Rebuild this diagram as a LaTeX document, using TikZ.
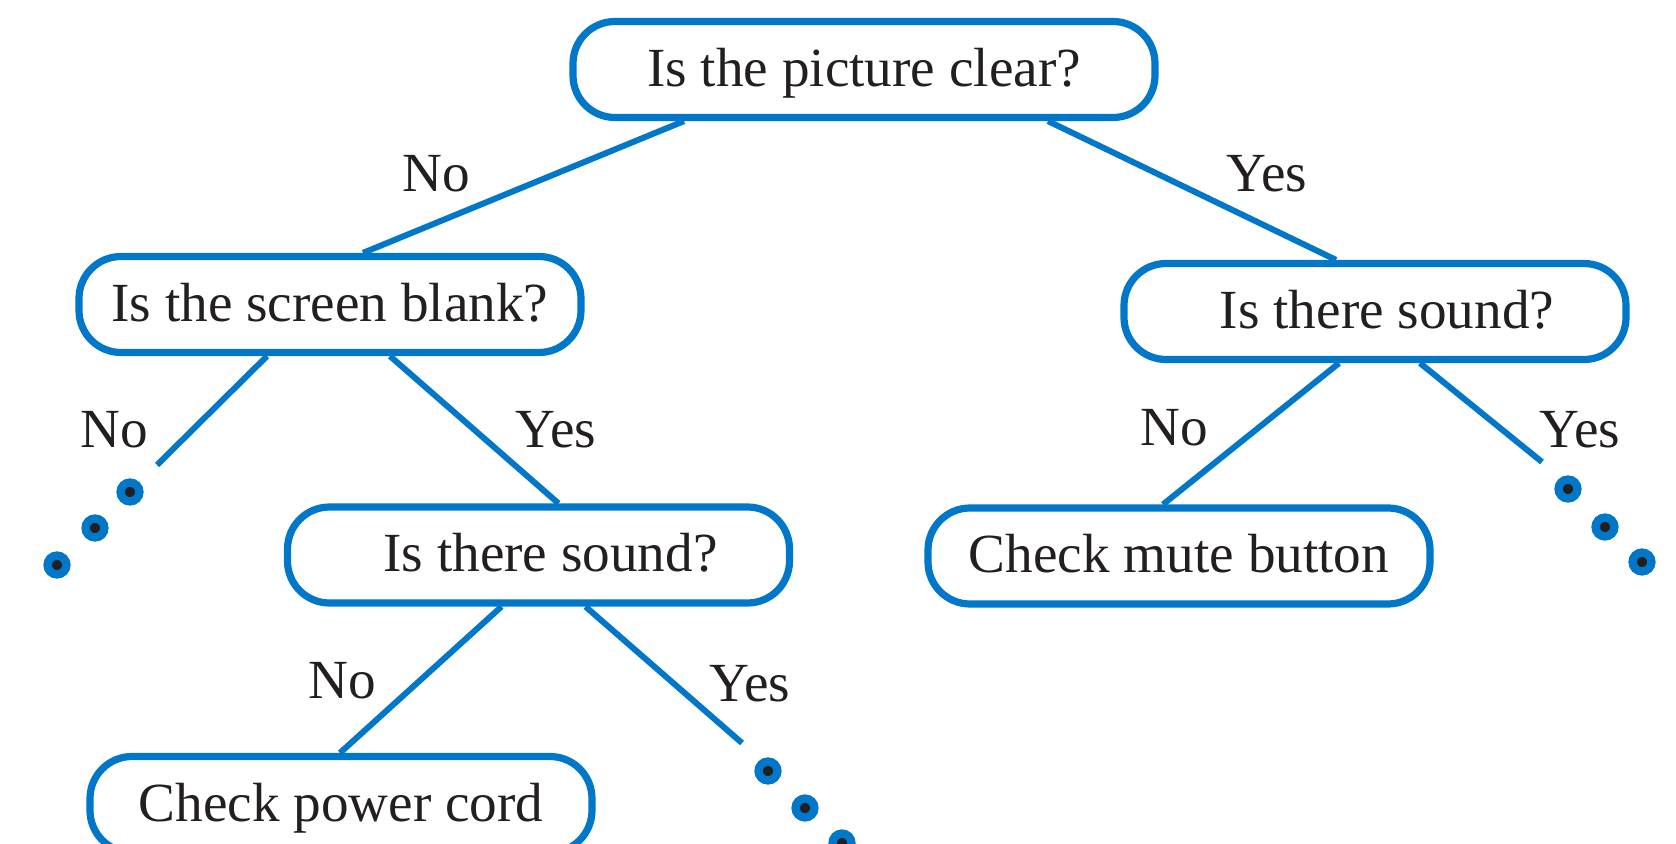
\documentclass[tikz,border=0pt]{standalone}
\usepackage{fontspec}
\setmainfont{Liberation Serif}
\usetikzlibrary{calc}
\definecolor{treeblue}{RGB}{0,119,200}
\definecolor{inkblack}{RGB}{35,31,32}
\tikzstyle{question} = [rectangle, draw=treeblue, line width=3.6pt, rounded corners=21pt, text centered, minimum height=48pt, minimum width=251pt, text height=22.9pt, text depth=6.1pt, font=\fontsize{27.6}{32}\selectfont, text=inkblack]
\tikzstyle{answer} = [font=\fontsize{27.6}{32}\selectfont, text=inkblack]
\tikzstyle{branchline} = [draw=treeblue, line width=3pt]
\tikzstyle{moredot} = [circle, fill=inkblack, draw=treeblue, line width=4.2pt, inner sep=0pt, minimum size=9.4pt]

\begin{document}
\begin{tikzpicture}[x=0.5pt, y=-0.5pt]
            \useasboundingbox (0,0) rectangle (1676,844);
            \node (clear) [question, minimum width=291pt] at (864,69.5) {Is the picture clear?};
            \node (blank) [question] at (330,304.5) {Is the screen blank?};
            \node (soundr) [question] at (1375,311.5) {\hspace{12pt}Is there sound?};
            \node (soundl) [question] at (538.5,555) {\hspace{12pt}Is there sound?};
            \node (mute) [question] at (1179,556) {Check mute button};
            \node (power) [question] at (341,804.5) {Check power cord};
            % free ends of the open branches
            \coordinate (endl) at (157,465);
            \coordinate (endr) at (1542,462);
            \coordinate (endb) at (742,743);
            \draw [branchline] ($(clear.south)+(-180,0)$) -- ($(blank.north)+(33,0)$);
            \draw [branchline] ($(clear.south)+(184,0)$) -- ($(soundr.north)+(-39,0)$);
            \draw [branchline] ($(blank.south)+(-63,0)$) -- (endl);
            \draw [branchline] ($(blank.south)+(60,0)$) -- ($(soundl.north)+(20,0)$);
            \draw [branchline] ($(soundr.south)+(-36,0)$) -- ($(mute.north)+(-16,0)$);
            \draw [branchline] ($(soundr.south)+(45,0)$) -- (endr);
            \draw [branchline] ($(soundl.south)+(-37,0)$) -- ($(power.north)+(-1,0)$);
            \draw [branchline] ($(soundl.south)+(47,0)$) -- (endb);
            \node (no1) [answer] at (436,174) {No};
            \node (yes1) [answer] at (1267,174) {Yes};
            \node (no2) [answer] at (114,430) {No};
            \node (yes2) [answer] at (556,430) {Yes};
            \node (no3) [answer] at (1174,428) {No};
            \node (yes3) [answer] at (1580,430) {Yes};
            \node (no4) [answer] at (342,681) {No};
            \node (yes4) [answer] at (750,684) {Yes};
            \foreach \x/\y [count=\i] in {130/492, 95/528, 57/565} \node (dotl\i) [moredot] at (\x,\y) {};
            \foreach \x/\y [count=\i] in {1568/489, 1605/527, 1642/562} \node (dotr\i) [moredot] at (\x,\y) {};
            \foreach \x/\y [count=\i] in {768/771, 805/808, 842/843} \node (dotb\i) [moredot] at (\x,\y) {};
        \end{tikzpicture}
\end{document}
